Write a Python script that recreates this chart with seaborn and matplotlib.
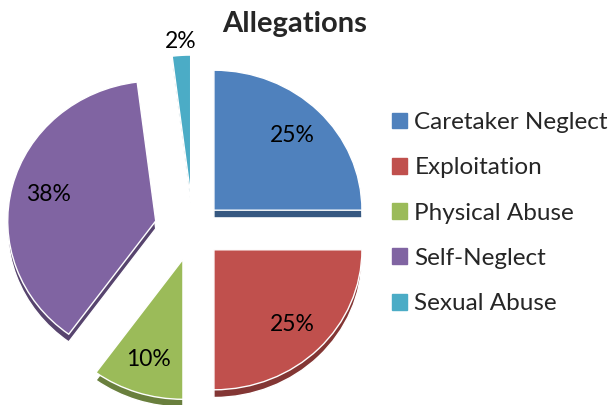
import numpy as np
import matplotlib
matplotlib.use("Agg")
import matplotlib.pyplot as plt
import matplotlib.colors as mcolors
import seaborn as sns

categories = ["Caretaker Neglect", "Exploitation", "Physical Abuse", "Self-Neglect", "Sexual Abuse"]
shares = [25, 25, 10, 38, 2]
colors = ["#4F81BD", "#C0504D", "#9BBB59", "#8064A2", "#4BACC6"]

sns.set_theme(style="white")
plt.rcParams["font.family"] = ["Lato", "DejaVu Sans"]

fig = plt.figure(figsize=(6.14, 4.05), dpi=100)
# pie radius in px (a touch wider than tall, like the tilted original)
rx_px, ry_px = 148, 140
lim = 1.35
cx, cy = 193, 405 - 230
w_px, h_px = 2 * lim * rx_px, 2 * lim * ry_px
ax = fig.add_axes([(cx - w_px / 2) / 614, (cy - h_px / 2) / 405, w_px / 614, h_px / 405])

explode = [0.2, 0.2, 0.22, 0.26, 0.25]
dark = [tuple(np.array(mcolors.to_rgb(c)) * 0.68) for c in colors]

# depth layer (fake 3D rim)
ax.pie(shares, colors=dark, explode=explode, startangle=90, counterclock=False,
       center=(0, -0.055), radius=1.0, frame=True)
wedges, texts, autotexts = ax.pie(
    shares, colors=colors, explode=explode, startangle=90, counterclock=False,
    autopct="%1.0f%%", pctdistance=0.75, radius=1.0, frame=True,
    textprops={"fontsize": 16.5, "color": "black"})
ax.set_aspect("auto")
ax.set_xlim(-lim, lim)
ax.set_ylim(-lim, lim)
ax.axis("off")

# small slice label sits outside the slice
w = wedges[-1]
mid = np.deg2rad((w.theta1 + w.theta2) / 2)
autotexts[-1].set_position((w.center[0] + 1.1 * np.cos(mid), w.center[1] + 1.1 * np.sin(mid)))

fig.text(295 / 614, 1 - 24 / 405, "Allegations", ha="center", va="center",
         fontsize=21, fontweight="bold")

handles = [plt.Rectangle((0, 0), 1, 1, color=c) for c in colors]
fig.legend(handles, categories, loc="upper left", bbox_to_anchor=(392 / 614, 1 - 112 / 405),
           frameon=False, fontsize=17.5, handlelength=0.62, handleheight=0.62,
           handletextpad=0.3, labelspacing=1.0, borderaxespad=0, borderpad=0)

fig.savefig("out.png", dpi=100)
